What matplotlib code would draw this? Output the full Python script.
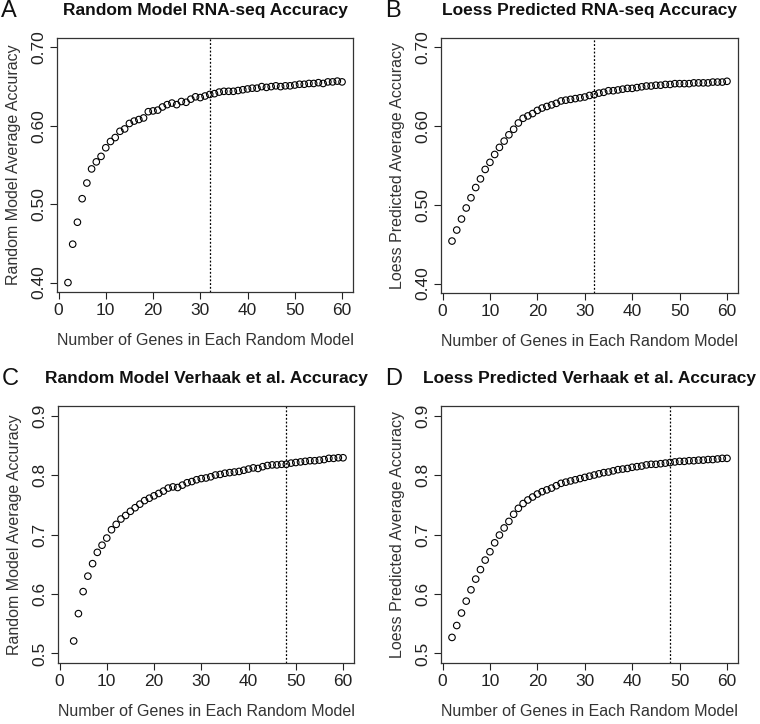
import matplotlib
matplotlib.use('Agg')
import matplotlib.pyplot as plt

plt.rcParams['font.family'] = ['Liberation Sans', 'DejaVu Sans']

# number of genes in each random model
genes = list(range(2, 61))
genes_c = list(range(3, 61))

rna_random = [0.400, 0.449, 0.477, 0.507, 0.527, 0.545, 0.554, 0.561, 0.572, 0.580,
              0.585, 0.593, 0.596, 0.603, 0.606, 0.608, 0.610, 0.618, 0.619, 0.620,
              0.624, 0.627, 0.629, 0.627, 0.631, 0.630, 0.634, 0.637, 0.636, 0.638,
              0.640, 0.641, 0.643, 0.644, 0.644, 0.644, 0.645, 0.646, 0.647, 0.648,
              0.648, 0.650, 0.649, 0.650, 0.651, 0.650, 0.651, 0.651, 0.652, 0.653,
              0.653, 0.654, 0.654, 0.655, 0.654, 0.656, 0.656, 0.657, 0.656]

rna_loess = [0.454, 0.468, 0.482, 0.496, 0.509, 0.522, 0.533, 0.545, 0.554, 0.564,
             0.573, 0.581, 0.589, 0.596, 0.604, 0.610, 0.613, 0.616, 0.620, 0.623,
             0.625, 0.627, 0.629, 0.632, 0.633, 0.634, 0.635, 0.636, 0.637, 0.639,
             0.640, 0.642, 0.643, 0.645, 0.645, 0.646, 0.647, 0.648, 0.648, 0.649,
             0.650, 0.651, 0.651, 0.652, 0.652, 0.653, 0.653, 0.654, 0.654, 0.654,
             0.654, 0.655, 0.655, 0.655, 0.655, 0.656, 0.656, 0.656, 0.657]

verhaak_random = [0.521, 0.567, 0.604, 0.630, 0.651, 0.670, 0.682, 0.694, 0.708, 0.717,
                  0.726, 0.732, 0.739, 0.745, 0.751, 0.757, 0.761, 0.765, 0.769, 0.773,
                  0.778, 0.780, 0.779, 0.783, 0.787, 0.789, 0.792, 0.794, 0.795, 0.797,
                  0.800, 0.801, 0.803, 0.804, 0.805, 0.806, 0.808, 0.810, 0.812, 0.811,
                  0.814, 0.816, 0.817, 0.817, 0.818, 0.818, 0.820, 0.821, 0.822, 0.823,
                  0.824, 0.824, 0.825, 0.826, 0.828, 0.828, 0.829, 0.829]

verhaak_loess = [0.527, 0.547, 0.568, 0.588, 0.607, 0.625, 0.641, 0.657, 0.671, 0.686,
                 0.699, 0.711, 0.722, 0.734, 0.744, 0.752, 0.758, 0.763, 0.768, 0.772,
                 0.775, 0.778, 0.782, 0.786, 0.788, 0.790, 0.792, 0.794, 0.796, 0.798,
                 0.800, 0.802, 0.804, 0.805, 0.807, 0.809, 0.810, 0.811, 0.813, 0.814,
                 0.815, 0.817, 0.818, 0.818, 0.819, 0.820, 0.821, 0.822, 0.823, 0.823,
                 0.824, 0.824, 0.825, 0.825, 0.826, 0.826, 0.827, 0.828, 0.828]

W, H = 760, 724
fig = plt.figure(figsize=(W / 100, H / 100), dpi=100)


def px_axes(left, top, right, bottom):
    return fig.add_axes([left / W, 1 - bottom / H, (right - left) / W, (bottom - top) / H])


panels = [
    # letter, title, ylabel, x, y, cutoff, box(l,t,r,b), ylim, yticks, fmt
    ('A', 'Random Model RNA-seq Accuracy', 'Random Model Average Accuracy',
     genes, rna_random, 32, (57, 38, 353, 292), (0.4, 0.7), [0.40, 0.50, 0.60, 0.70], '%.2f'),
    ('B', 'Loess Predicted RNA-seq Accuracy', 'Loess Predicted Average Accuracy',
     genes, rna_loess, 32, (441, 38, 738, 293), (0.4, 0.7), [0.40, 0.50, 0.60, 0.70], '%.2f'),
    ('C', 'Random Model Verhaak et al. Accuracy', 'Random Model Average Accuracy',
     genes_c, verhaak_random, 48, (58, 406, 354, 663), (0.5, 0.9), [0.5, 0.6, 0.7, 0.8, 0.9], '%.1f'),
    ('D', 'Loess Predicted Verhaak et al. Accuracy', 'Loess Predicted Average Accuracy',
     genes, verhaak_loess, 48, (441, 406, 738, 663), (0.5, 0.9), [0.5, 0.6, 0.7, 0.8, 0.9], '%.1f'),
]

for letter, title, ylab, xs, ys, cut, box, ylim, yticks, fmt in panels:
    l, t, r, b = box
    ax = px_axes(l, t, r, b)
    ax.scatter(xs, ys, s=22, facecolors='none', edgecolors='black', linewidths=0.8, zorder=3)
    ax.axvline(cut, color='black', linestyle=(0, (1.5, 1.5)), linewidth=0.9)
    pad = (ylim[1] - ylim[0]) * 0.04
    ax.set_ylim(ylim[0] - pad, ylim[1] + pad)
    ax.set_xlim(-0.32, 62.32)
    ax.set_xticks([0, 10, 20, 30, 40, 50, 60])
    ax.set_yticks(yticks)
    ax.set_yticklabels([fmt % v for v in yticks], rotation=90, va='center')
    ax.tick_params(direction='out', length=5, width=0.8, labelsize=12.5,
                   colors='#222222', pad=3)
    for sp in ax.spines.values():
        sp.set_linewidth(0.9)
        sp.set_color('#333333')
    ax.set_xlabel('Number of Genes in Each Random Model', fontsize=11.5, color='#333333', labelpad=11)
    ax.set_ylabel(ylab, fontsize=11.5, color='#333333', labelpad=7)
    cx = (l + r) / 2
    fig.text(cx / W, 1 - (t - 27) / H, title, ha='center', va='center',
             fontsize=12.5, fontweight='bold', color='#111111')
    fig.text((l - 56) / W, 1 - (t - 27) / H, letter, ha='left', va='center',
             fontsize=17, color='#111111')

fig.savefig('out.png', dpi=100)
